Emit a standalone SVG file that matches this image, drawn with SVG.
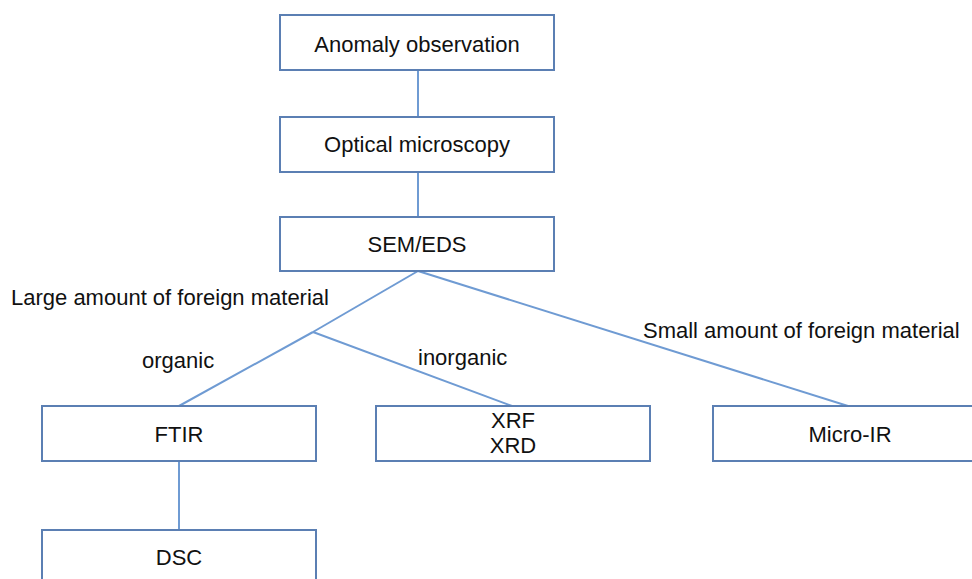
<svg xmlns="http://www.w3.org/2000/svg" width="972" height="579" viewBox="0 0 972 579">
<style>
.box{fill:#fff;stroke:#5b7fb3;stroke-width:2}
.t{font-family:"Liberation Sans",Arial,sans-serif;font-size:22px;fill:#111}
.c{text-anchor:middle}
.ln{stroke:#6f9bd3;stroke-width:2;fill:none}
</style>
<rect width="972" height="579" fill="#fff"/>
<g id="connectors">
<line class="ln" x1="418" y1="70" x2="418" y2="117"/>
<line class="ln" x1="418" y1="172" x2="418" y2="217"/>
<line class="ln" x1="418" y1="271" x2="313" y2="332"/>
<line class="ln" x1="313" y1="332" x2="179" y2="406"/>
<line class="ln" x1="313" y1="332" x2="512" y2="406"/>
<line class="ln" x1="418" y1="271" x2="848" y2="406"/>
<line class="ln" x1="179" y1="461" x2="179" y2="530"/>
</g>
<g id="labels">
<text class="t" x="11" y="305">Large amount of foreign material</text>
<text class="t" x="142" y="368">organic</text>
<text class="t" x="418" y="365">inorganic</text>
<text class="t" x="643" y="338">Small amount of foreign material</text>
</g>
<g id="anomaly">
<rect class="box" x="280" y="15" width="274" height="55"/>
<text class="t c" x="417" y="52">Anomaly observation</text>
</g>
<g id="optical">
<rect class="box" x="280" y="117" width="274" height="55"/>
<text class="t c" x="417" y="152">Optical microscopy</text>
</g>
<g id="semeds">
<rect class="box" x="280" y="217" width="274" height="54"/>
<text class="t c" x="417" y="252">SEM/EDS</text>
</g>
<g id="ftir">
<rect class="box" x="42" y="406" width="274" height="55"/>
<text class="t c" x="179" y="442">FTIR</text>
</g>
<g id="xrf">
<rect class="box" x="376" y="406" width="274" height="55"/>
<text class="t c" x="513" y="428">XRF</text>
<text class="t c" x="513" y="453">XRD</text>
</g>
<g id="microir">
<rect class="box" x="713" y="406" width="274" height="55"/>
<text class="t c" x="850" y="442">Micro-IR</text>
</g>
<g id="dsc">
<rect class="box" x="42" y="530" width="274" height="55"/>
<text class="t c" x="179" y="565">DSC</text>
</g>
</svg>
